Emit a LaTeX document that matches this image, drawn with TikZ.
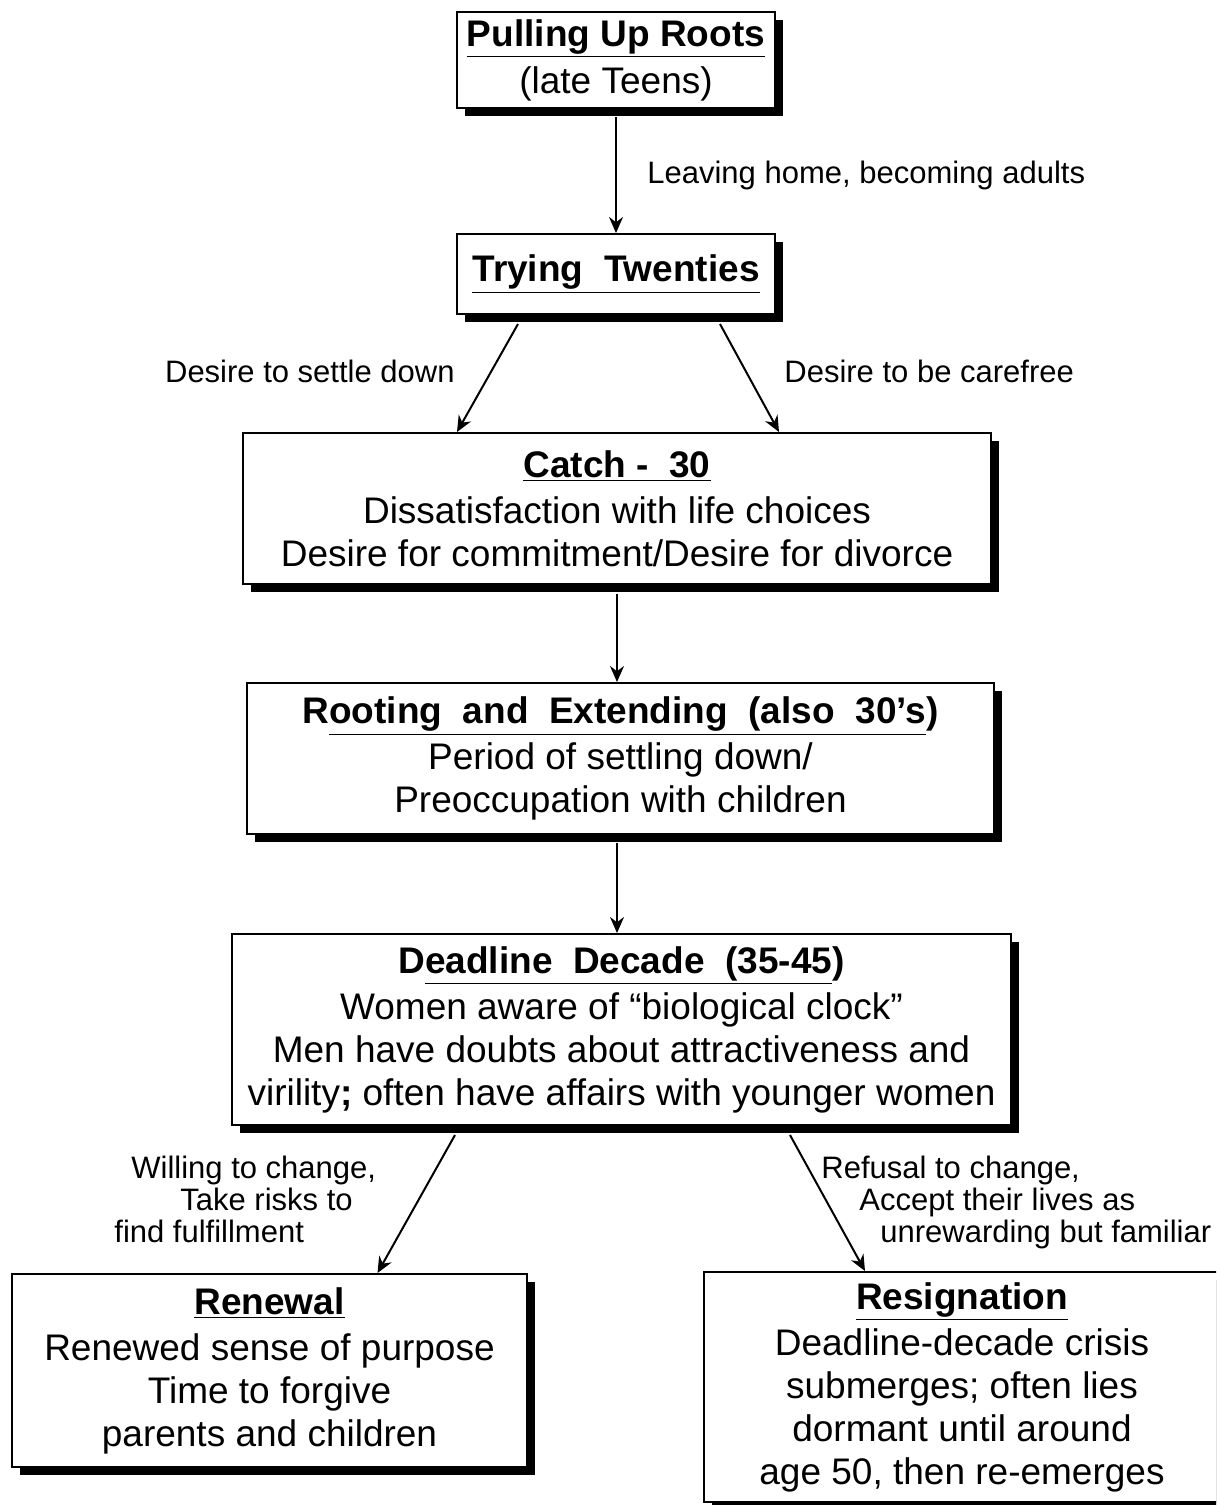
\documentclass[tikz,border=0pt]{standalone}
\usepackage{fontspec}
\setmainfont{Liberation Sans}
\usetikzlibrary{calc, positioning, shadows, arrows.meta}

\begin{document}
\begin{tikzpicture}[x=0.5pt, y=-0.5pt,
  stage/.style={draw, line width=1pt, fill=white, align=center, inner sep=0pt,
    drop shadow={shadow xshift=4pt, shadow yshift=-4pt, fill=black, opacity=1},
    font=\fontsize{18.5}{21.5}\selectfont},
  lbl/.style={align=left, inner sep=0pt, font=\fontsize{15.5}{16}\selectfont},
  arr/.style={-{Stealth[length=8pt, width=7pt]}, line width=1pt}]
\useasboundingbox (0,0) rectangle (1216,1505);
\clip (0,0) rectangle (1216,1505);

% stages
\node[stage, minimum width=159pt, minimum height=48pt] (roots) at (616,60)
  {\textbf{\underline{Pulling Up Roots}}\\[2pt] (late Teens)};
\node[stage, minimum width=159pt, minimum height=40pt] (twenties) at (616,274)
  {\textbf{\underline{Trying~~Twenties}}};
\node[stage, minimum width=374pt, minimum height=75.5pt] (catch) at (617,508.5)
  {\textbf{\underline{Catch~-~~30}}\\[1.5pt] Dissatisfaction with life choices\\ Desire for commitment/Desire for divorce};
\node[stage, minimum width=373.5pt, minimum height=75.5pt] (rooting) at (620.5,758.5)
  {\textbf{R\underline{ooting~~and~~Extending~~(also~~30’s})}\\[1.5pt] Period of settling down/\\ Preoccupation with children};
\node[stage, minimum width=389.5pt, minimum height=95.5pt] (deadline) at (621.5,1029.5)
  {\textbf{D\underline{eadline~~Decade~~(35-45})}\\[1.5pt] Women aware of “biological clock”\\ Men have doubts about attractiveness and\\ virility\textbf{;} often have affairs with younger women};
\node[stage, minimum width=257.5pt, minimum height=96.5pt] (renewal) at (269.5,1370.5)
  {\textbf{\underline{Renewal}}\\[1.5pt] Renewed sense of purpose\\ Time to forgive\\ parents and children};
\node[stage, minimum width=258pt, minimum height=115pt] (resign) at (962,1387)
  {\textbf{\underline{Resignation}}\\[1.5pt] Deadline-decade crisis\\ submerges; often lies\\ dormant until around\\ age 50, then re-emerges};

% arrows
\draw[arr] ($(roots.south)+(0,8)$) -- (twenties.north);
\draw[arr] ($(twenties.south)+(-98,9)$) -- ($(catch.north)+(-160,0)$);
\draw[arr] ($(twenties.south)+(104,9)$) -- ($(catch.north)+(162,0)$);
\draw[arr] ($(catch.south)+(0,9)$) -- (catch.south |- rooting.north);
\draw[arr] ($(rooting.south)+(-3.5,8)$) -- ($(deadline.north)+(-4.5,0)$);
\draw[arr] ($(deadline.south)+(-166.5,9)$) -- ($(renewal.north)+(108,0)$);
\draw[arr] ($(deadline.south)+(168.5,9)$) -- ($(resign.north)+(-97,0)$);

% labels
\node[lbl, anchor=west] (leave) at (647,175) {Leaving home, becoming adults};
\node[lbl, anchor=east] (settle) at (455,371) {Desire to settle down};
\node[lbl, anchor=west] (carefree) at (784,371) {Desire to be carefree};
\node[lbl, anchor=west] (willing) at (114,1199)
  {\hspace*{8.5pt}Willing to change,\\ \hspace*{33pt}Take risks to\\ find fulfillment};
\node[lbl, anchor=west] (refusal) at (821,1202)
  {Refusal to change,\\ \hspace*{19pt}Accept their lives as\\ \hspace*{29.5pt}unrewarding but familiar};
\end{tikzpicture}
\end{document}
